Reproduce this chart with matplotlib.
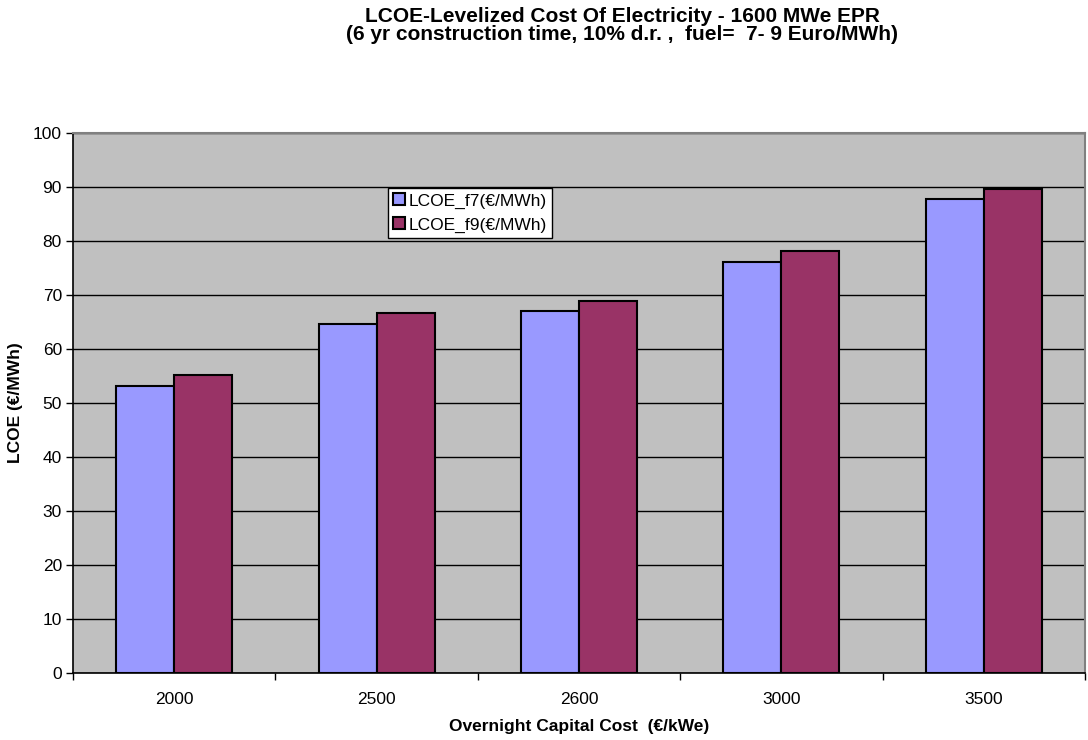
import matplotlib
matplotlib.use("Agg")
import matplotlib.pyplot as plt
import numpy as np

plt.rcParams['font.family'] = ['Liberation Sans', 'DejaVu Sans']

categories = ["2000", "2500", "2600", "3000", "3500"]
lcoe_f7 = [53.2, 64.7, 67.0, 76.2, 87.7]
lcoe_f9 = [55.2, 66.7, 68.9, 78.2, 89.7]
series_names = ["LCOE_f7(€/MWh)", "LCOE_f9(€/MWh)"]

fig = plt.figure(figsize=(10.88, 7.4), dpi=100)
ax = fig.add_axes([73/1088, 1-673/740, 1012/1088, 540/740])
ax.set_facecolor("#C0C0C0")

x = np.arange(len(categories))
w = 0.2865
ax.bar(x - w/2, lcoe_f7, w, color="#9999FF", edgecolor="black", linewidth=1.5,
       label=series_names[0], zorder=3)
ax.bar(x + w/2, lcoe_f9, w, color="#993366", edgecolor="black", linewidth=1.5,
       label=series_names[1], zorder=3)

ax.set_xlim(-0.5, len(categories) - 0.5)
ax.set_ylim(0, 100)
ax.set_yticks(np.arange(0, 101, 10))
ax.yaxis.grid(True, color="black", linewidth=1.0, zorder=1)
ax.set_axisbelow(True)

ax.set_xticks(x)
ax.set_xticklabels(categories, fontsize=12.5)
ax.tick_params(axis='x', which='major', length=0, pad=14)
ax.set_xticks(np.arange(-0.5, len(categories), 1), minor=True)
ax.tick_params(axis='x', which='minor', length=5, width=1, color="black")
ax.tick_params(axis='y', length=5, width=1, labelsize=12.5, pad=3)

for s in ["top", "right"]:
    ax.spines[s].set_color("#808080")
    ax.spines[s].set_linewidth(1.5)
for s in ["left", "bottom"]:
    ax.spines[s].set_color("black")
    ax.spines[s].set_linewidth(1.2)

ax.set_ylabel("LCOE (€/MWh)", fontsize=12.5, fontweight="bold", labelpad=7)
ax.set_xlabel("Overnight Capital Cost  (€/kWe)", fontsize=12.5, fontweight="bold", labelpad=8)

fig.text(0.572, 1 - 7/740,
         "LCOE-Levelized Cost Of Electricity - 1600 MWe EPR\n(6 yr construction time, 10% d.r. ,  fuel=  7- 9 Euro/MWh)",
         ha="center", va="top", fontsize=15, fontweight="bold", linespacing=0.92)

leg = ax.legend(loc="upper left", bbox_to_anchor=(0.311, 0.898), fontsize=12.5,
                frameon=True, fancybox=False, framealpha=1, edgecolor="black",
                borderpad=0.3, handlelength=0.7, handleheight=0.7, handletextpad=0.2,
                labelspacing=0.5, borderaxespad=0)
leg.get_frame().set_linewidth(1.0)

fig.savefig("out.png", dpi=100, facecolor="white")
